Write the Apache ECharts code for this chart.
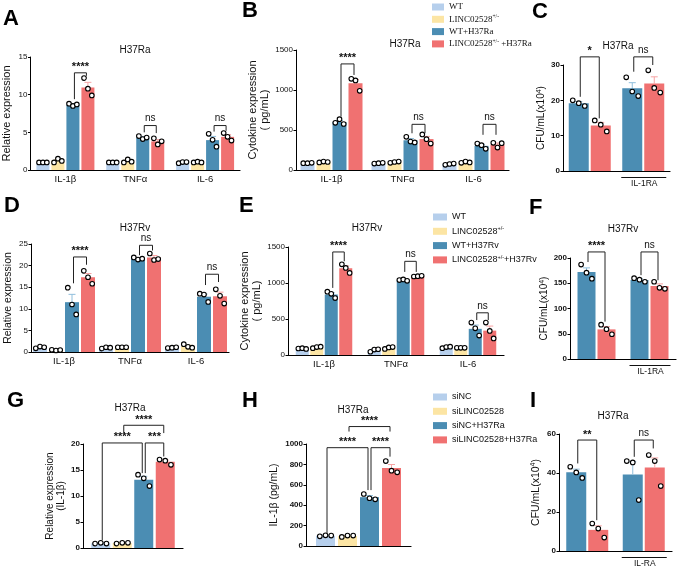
<!DOCTYPE html>
<html>
<head>
<meta charset="utf-8">
<script src="https://cdn.jsdelivr.net/npm/echarts@6/dist/echarts.min.js"></script>
<style>
  html, body { margin: 0; padding: 0; background: #fff; }
  #chart { width: 677px; height: 569px; }
</style>
</head>
<body>
<div id="chart"></div>
<script>
// 分组 / 条件名称
const cytokines = ['IL-1β', 'TNFα', 'IL-6'];
const condRa = ['WT', 'LINC02528+/-', 'WT+H37Ra', 'LINC02528+/- +H37Ra'];
const condRv = ['WT', 'LINC02528+/-', 'WT+H37Rv', 'LINC02528+/-+H37Rv'];
const condSi = ['siNC', 'siLINC02528', 'siNC+H37Ra', 'siLINC02528+H37Ra'];
const cfuGroups = ['', 'IL-1RA'];
const cfuGroupsI = ['', 'IL-RA'];
const siGroup = [''];

// 每个点的重复值 [分组][条件][重复]
const dotsA = [
  [[1.0, 1.0, 1.0], [1.0, 1.5, 1.2], [8.8, 8.5, 8.7], [12.2, 10.8, 9.9]],
  [[1.0, 1.0, 1.0], [1.0, 1.4, 1.1], [4.5, 4.1, 4.3], [4.2, 3.4, 3.8]],
  [[0.9, 1.05, 1.05], [1.0, 1.1, 1.0], [4.8, 4.0, 3.1], [4.9, 4.4, 3.9]]
];
const dotsB = [
  [[85, 85, 90], [95, 105, 100], [590, 635, 575], [1140, 1120, 990]],
  [[80, 85, 90], [90, 100, 105], [415, 355, 345], [445, 385, 330]],
  [[65, 75, 80], [90, 105, 95], [330, 310, 265], [340, 280, 335]]
];
const dotsC = [
  [[20.0, 19.2, 18.4], [14.3, 13.1, 11.2]],
  [[26.5, 22.5, 21.2], [28.5, 23.5, 22.2]]
];
const dotsD = [
  [[0.85, 1.25, 1.1], [0.5, 0.35, 0.45], [14.9, 11.0, 8.7], [18.8, 17.3, 15.8]],
  [[0.8, 1.1, 1.0], [1.1, 1.1, 1.1], [21.9, 21.4, 21.6], [22.8, 21.3, 21.5]],
  [[0.9, 1.0, 1.1], [1.8, 1.2, 1.0], [13.5, 13.3, 11.6], [14.5, 13.0, 11.2]]
];
const dotsE = [
  [[90, 95, 85], [95, 110, 115], [880, 850, 790], [1260, 1210, 1140]],
  [[45, 75, 80], [85, 105, 110], [1040, 1050, 1030], [1090, 1095, 1100]],
  [[95, 110, 115], [100, 100, 100], [450, 370, 270], [450, 335, 230]]
];
const dotsF = [
  [[187, 171, 159], [68, 59, 49]],
  [[160, 157, 153], [153, 141, 139]]
];
const dotsG = [[[0.85, 1.0, 0.85], [0.85, 1.0, 1.0], [14.1, 13.4, 11.9], [17.0, 16.8, 16.0]]];
const dotsH = [[[95, 105, 102], [89, 102, 102], [510, 468, 458], [833, 738, 722]]];
const dotsI = [
  [[43.2, 40.3, 37.5], [14.1, 11.5, 6.9]],
  [[46.1, 45.4, 26.1], [49.2, 46.1, 33.3]]
];

// 显著性标注 [分组, 条件1, 条件2, 横线高度, 左腿底, 右腿底, 文字]
const sigA = [[0, 2, 3, 12.9, 9.4, 12.5, '****'], [1, 2, 3, 5.9, 5.0, 4.9, 'ns'], [2, 2, 3, 5.9, 5.1, 5.2, 'ns']];
const sigB = [[0, 2, 3, 1326, 667, 1188, '****'], [1, 2, 3, 571, 459, 459, 'ns'], [2, 2, 3, 571, 440, 440, 'ns']];
const sigC = [[0, 0, 1, 32.3, 21, 14.9, '*'], [1, 0, 1, 32.3, 28.1, 30, 'ns']];
const sigD = [[0, 2, 3, 22, 15.9, 20.2, '****'], [1, 2, 3, 24.7, 22.4, 23.5, 'ns'], [2, 2, 3, 18, 15.5, 16.2, 'ns']];
const sigE = [[0, 2, 3, 1431, 932, 1301, '****'], [1, 2, 3, 1301, 1154, 1154, 'ns'], [2, 2, 3, 586, 485, 485, 'ns']];
const sigF = [[0, 0, 1, 212, 192, 74, '****'], [1, 0, 1, 212, 166, 156, 'ns']];
const sigG = [[0, 0, 2, 20.2, 1.5, 14.4, '****'], [0, 2, 3, 20.2, 14.4, 17.6, '***'], [0, 1, 3, 23.6, 22.1, 22.1, '****']];
const sigH = [[0, 0, 2, 964, 121, 548, '****'], [0, 2, 3, 964, 548, 876, '****'], [0, 1, 3, 1171, 1122, 1122, '****']];
const sigI = [[0, 0, 1, 56.9, 44.9, 15.8, '**'], [1, 0, 1, 56.9, 48.3, 52.6, 'ns']];

// y轴刻度
const ticksA = [0, 5, 10, 15];
const ticksB = [0, 500, 1000, 1500];
const ticksC = [0, 10, 20, 30];
const ticksD = [0, 5, 10, 15, 20, 25];
const ticksE = [0, 500, 1000, 1500];
const ticksF = [0, 50, 100, 150, 200];
const ticksG = [0, 5, 10, 15, 20];
const ticksH = [0, 200, 400, 600, 800, 1000];
const ticksI = [0, 20, 40, 60];

const SANS = 'Liberation Sans, Arial, sans-serif';
const SERIF = 'Liberation Serif, Times New Roman, serif';
const barColors = ['#b6cfec', '#fce5a4', '#4b8db3', '#f07171'];
const errColors = ['#98bde4', '#f1d084', '#90bfdc', '#f7a4a4'];
const cfuName = 'CFU/mL(x10{s|4})';

// 面板: 数据引用 + 布局
const panels = [
  { id: 'A', cats: cytokines, conds: condRa, colors: [0, 1, 2, 3], dots: dotsA, sig: sigA, ticks: ticksA,
    yName: 'Relative expression', title: 'H37Ra',
    grid: [30, 57, 210, 113], barW: 13, gap: 2, nameGap: 17, nameSize: 11, bold: false,
    titlePos: [135, 50], letterPos: [3, 19] },
  { id: 'B', cats: cytokines, conds: condRa, colors: [0, 1, 2, 3], dots: dotsB, sig: sigB, ticks: ticksB,
    yName: 'Cytokine expression\n( pg/mL)', title: 'H37Ra',
    grid: [296, 50, 213, 120], barW: 14, gap: 2, nameGap: 24, nameSize: 11, bold: false,
    titlePos: [405, 44], letterPos: [242, 11] },
  { id: 'C', cats: cfuGroups, conds: [condRa[2], condRa[3]], colors: [2, 3], dots: dotsC, sig: sigC, ticks: ticksC,
    yName: cfuName, title: 'H37Ra', underline: true,
    grid: [563, 65, 107, 106], barW: 20, gap: 2, nameGap: 14, nameSize: 10, bold: true,
    titlePos: [618, 46], letterPos: [532, 12] },
  { id: 'D', cats: cytokines, conds: condRv, colors: [0, 1, 2, 3], dots: dotsD, sig: sigD, ticks: ticksD,
    yName: 'Relative expression', title: 'H37Rv',
    grid: [31, 244, 198, 108], barW: 14, gap: 2, nameGap: 17, nameSize: 10.5, bold: false,
    titlePos: [135, 228], letterPos: [4, 206] },
  { id: 'E', cats: cytokines, conds: condRv, colors: [0, 1, 2, 3], dots: dotsE, sig: sigE, ticks: ticksE,
    yName: 'Cytokine expression\n( pg/mL)', title: 'H37Rv',
    grid: [288, 247, 216, 108], barW: 13, gap: 1.5, nameGap: 16, nameSize: 11, bold: false,
    titlePos: [367, 228], letterPos: [239, 206] },
  { id: 'F', cats: cfuGroups, conds: [condRv[2], condRv[3]], colors: [2, 3], dots: dotsF, sig: sigF, ticks: ticksF,
    yName: cfuName, title: 'H37Rv', underline: true,
    grid: [570, 258, 106, 101], barW: 18, gap: 2, nameGap: 20, nameSize: 10, bold: true,
    titlePos: [623, 229], letterPos: [529, 208] },
  { id: 'G', cats: siGroup, conds: condSi, colors: [0, 1, 2, 3], dots: dotsG, sig: sigG, ticks: ticksG,
    yName: 'Relative expression\n(IL-1β)', title: 'H37Ra',
    grid: [83, 444, 100, 104], barW: 19, gap: 2.5, nameGap: 15, nameSize: 10, bold: true,
    titlePos: [130, 408], letterPos: [7, 401] },
  { id: 'H', cats: siGroup, conds: condSi, colors: [0, 1, 2, 3], dots: dotsH, sig: sigH, ticks: ticksH,
    yName: 'IL-1β (pg/mL)', title: 'H37Ra',
    grid: [306, 444, 105, 102], barW: 19, gap: 3, nameGap: 26, nameSize: 10.5, bold: true,
    titlePos: [353, 410], letterPos: [242, 401] },
  { id: 'I', cats: cfuGroupsI, conds: [condRa[2], condRa[3]], colors: [2, 3], dots: dotsI, sig: sigI, ticks: ticksI,
    yName: cfuName, title: 'H37Ra', underline: true,
    grid: [559, 434, 113, 117], barW: 20, gap: 2, nameGap: 17, nameSize: 10.5, bold: true,
    titlePos: [613, 416], letterPos: [530, 401] }
];

const mean = (a) => a.reduce((s, v) => s + v, 0) / a.length;
const sem = (a) => {
  const m = mean(a);
  const sd = Math.sqrt(a.reduce((s, v) => s + (v - m) * (v - m), 0) / (a.length - 1));
  return sd / Math.sqrt(a.length);
};

const grids = [], xAxes = [], yAxes = [], series = [], graphics = [];

panels.forEach((p, idx) => {
  const n = p.conds.length;
  const step = p.barW + p.gap;
  const offsetOf = (c) => (c - (n - 1) / 2) * step;

  grids.push({ left: p.grid[0], top: p.grid[1], width: p.grid[2], height: p.grid[3], containLabel: false });

  xAxes.push({
    type: 'category', gridIndex: idx, data: p.cats,
    axisLine: { lineStyle: { color: '#000', width: 1.2 } },
    axisTick: { show: false },
    axisLabel: { show: !p.underline && p.cats.length > 1, fontSize: 9.5, color: '#111', fontFamily: SANS, margin: 4 }
  });

  const t = p.ticks;
  yAxes.push({
    type: 'value', gridIndex: idx, min: t[0], max: t[t.length - 1], interval: t[1] - t[0],
    axisLine: { show: true, lineStyle: { color: '#000', width: 1 } },
    axisTick: { show: true, length: 2.5, lineStyle: { color: '#000' } },
    axisLabel: { fontSize: 8, color: '#111', fontFamily: SANS, margin: 3, fontWeight: p.bold ? 'bold' : 'normal',
      formatter: (v) => String(v) },
    splitLine: { show: false },
    name: p.yName, nameLocation: 'middle', nameGap: p.nameGap,
    nameTextStyle: {
      fontSize: p.nameSize, color: '#111', fontFamily: SANS, lineHeight: p.nameSize + 1.5,
      rich: { s: { fontSize: 7, fontFamily: SANS, color: '#111', verticalAlign: 'top' } }
    }
  });

  // 柱子
  p.conds.forEach((name, c) => {
    series.push({
      type: 'bar', name: name, xAxisIndex: idx, yAxisIndex: idx,
      data: p.dots.map((grp) => mean(grp[c])),
      barWidth: p.barW, barGap: (p.gap / p.barW * 100) + '%',
      itemStyle: { color: barColors[p.colors[c]] },
      z: 2, silent: true
    });
  });

  // 误差线 + 散点
  const edData = [];
  p.dots.forEach((grp, g) => grp.forEach((reps, c) => {
    edData.push([g, c, mean(reps), sem(reps)].concat(reps));
  }));
  series.push({
    type: 'custom', xAxisIndex: idx, yAxisIndex: idx, z: 4, clip: false, silent: true,
    data: edData, encode: { x: 0, y: 2 },
    renderItem: function (params, api) {
      const g = api.value(0), c = api.value(1), m = api.value(2), s = api.value(3);
      const x = api.coord([g, 0])[0] + offsetOf(c);
      const children = [];
      if (s > 0) {
        const y1 = api.coord([g, m])[1];
        const y2 = api.coord([g, m + s])[1];
        const st = { stroke: errColors[p.colors[c]], lineWidth: 1 };
        children.push({ type: 'line', shape: { x1: x, y1: y1, x2: x, y2: y2 }, style: st });
        children.push({ type: 'line', shape: { x1: x - 3.5, y1: y2, x2: x + 3.5, y2: y2 }, style: st });
      }
      [-0.3, 0, 0.3].forEach((k, r) => {
        const y = api.coord([g, api.value(4 + r)])[1];
        children.push({
          type: 'circle', shape: { cx: x + k * p.barW, cy: y, r: 2.3 },
          style: { fill: '#fff', stroke: '#000', lineWidth: 1.1 }
        });
      });
      return { type: 'group', children: children };
    }
  });

  // 显著性括号
  series.push({
    type: 'custom', xAxisIndex: idx, yAxisIndex: idx, z: 5, clip: false, silent: true,
    data: p.sig.map((s) => s.slice(0, 6)), encode: { x: 0, y: 3 },
    renderItem: function (params, api) {
      const g = api.value(0);
      const base = api.coord([g, 0])[0];
      const xa = base + offsetOf(api.value(1)) + 1.5;
      const xb = base + offsetOf(api.value(2)) - 1.5;
      const yt = api.coord([g, api.value(3)])[1];
      const ya = api.coord([g, api.value(4)])[1];
      const yb = api.coord([g, api.value(5)])[1];
      const label = p.sig[params.dataIndex][6];
      const star = label.indexOf('*') >= 0;
      return {
        type: 'group',
        children: [
          { type: 'polyline', shape: { points: [[xa, ya], [xa, yt], [xb, yt], [xb, yb]] },
            style: { stroke: '#222', lineWidth: 1, fill: null } },
          { type: 'text', x: (xa + xb) / 2, y: yt - (star ? 0 : 2),
            style: { text: label, align: 'center', verticalAlign: 'bottom', textAlign: 'center', textVerticalAlign: 'bottom',
              font: star ? 'bold 11px ' + SANS : '10px ' + SANS, fill: '#111' } }
        ]
      };
    }
  });

  // 分组下划线 (IL-1RA)
  if (p.underline) {
    const ulData = [];
    p.cats.forEach((cat, g) => { if (cat) ulData.push([g, 0]); });
    const half = (n * p.barW + (n - 1) * p.gap) / 2;
    series.push({
      type: 'custom', xAxisIndex: idx, yAxisIndex: idx, z: 5, clip: false, silent: true,
      data: ulData, encode: { x: 0, y: 1 },
      renderItem: function (params, api) {
        const g = api.value(0);
        const pt = api.coord([g, 0]);
        return {
          type: 'group',
          children: [
            { type: 'line', shape: { x1: pt[0] - half - 1, y1: pt[1] + 6.5, x2: pt[0] + half + 2, y2: pt[1] + 6.5 },
              style: { stroke: '#111', lineWidth: 1 } },
            { type: 'text', x: pt[0] + 1, y: pt[1] + 8,
              style: { text: p.cats[g], align: 'center', verticalAlign: 'top', textAlign: 'center', textVerticalAlign: 'top',
                font: '8.5px ' + SANS, fill: '#111' } }
          ]
        };
      }
    });
  }

  // 标题与字母
  graphics.push({
    type: 'text', x: p.titlePos[0], y: p.titlePos[1],
    style: { text: p.title, align: 'center', verticalAlign: 'middle', textAlign: 'center', textVerticalAlign: 'middle',
      font: '10px ' + SANS, fill: '#111' }
  });
  graphics.push({
    type: 'text', x: p.letterPos[0], y: p.letterPos[1],
    style: { text: p.id, align: 'left', verticalAlign: 'middle', textAlign: 'left', textVerticalAlign: 'middle',
      font: 'bold 22px ' + SANS, fill: '#000' }
  });
});

const supFormatter = (name) => name.replace('+/-', '{s|+/-}');

const option = {
  animation: false,
  backgroundColor: '#fff',
  grid: grids,
  xAxis: xAxes,
  yAxis: yAxes,
  legend: [
    { data: condRa, left: 432, top: 1.5, orient: 'vertical', icon: 'rect', itemWidth: 12, itemHeight: 7, itemGap: 1.3,
      padding: 0, selectedMode: false, formatter: supFormatter,
      textStyle: { fontFamily: SERIF, fontSize: 9, color: '#111', lineHeight: 11,
        rich: { s: { fontFamily: SERIF, fontSize: 5.5, color: '#111', verticalAlign: 'top' } } } },
    { data: condRv, left: 433, top: 211.5, orient: 'vertical', icon: 'rect', itemWidth: 14, itemHeight: 7, itemGap: 3.3,
      padding: 0, selectedMode: false, formatter: supFormatter,
      textStyle: { fontFamily: SANS, fontSize: 9, color: '#111', lineHeight: 11,
        rich: { s: { fontFamily: SANS, fontSize: 5.5, color: '#111', verticalAlign: 'top' } } } },
    { data: condSi, left: 433, top: 391.5, orient: 'vertical', icon: 'rect', itemWidth: 14, itemHeight: 7, itemGap: 3.3,
      padding: 0, selectedMode: false,
      textStyle: { fontFamily: SANS, fontSize: 9, color: '#111', lineHeight: 11 } }
  ],
  graphic: graphics,
  series: series
};

const chart = echarts.init(document.getElementById('chart'));
chart.setOption(option);
</script>
</body>
</html>
